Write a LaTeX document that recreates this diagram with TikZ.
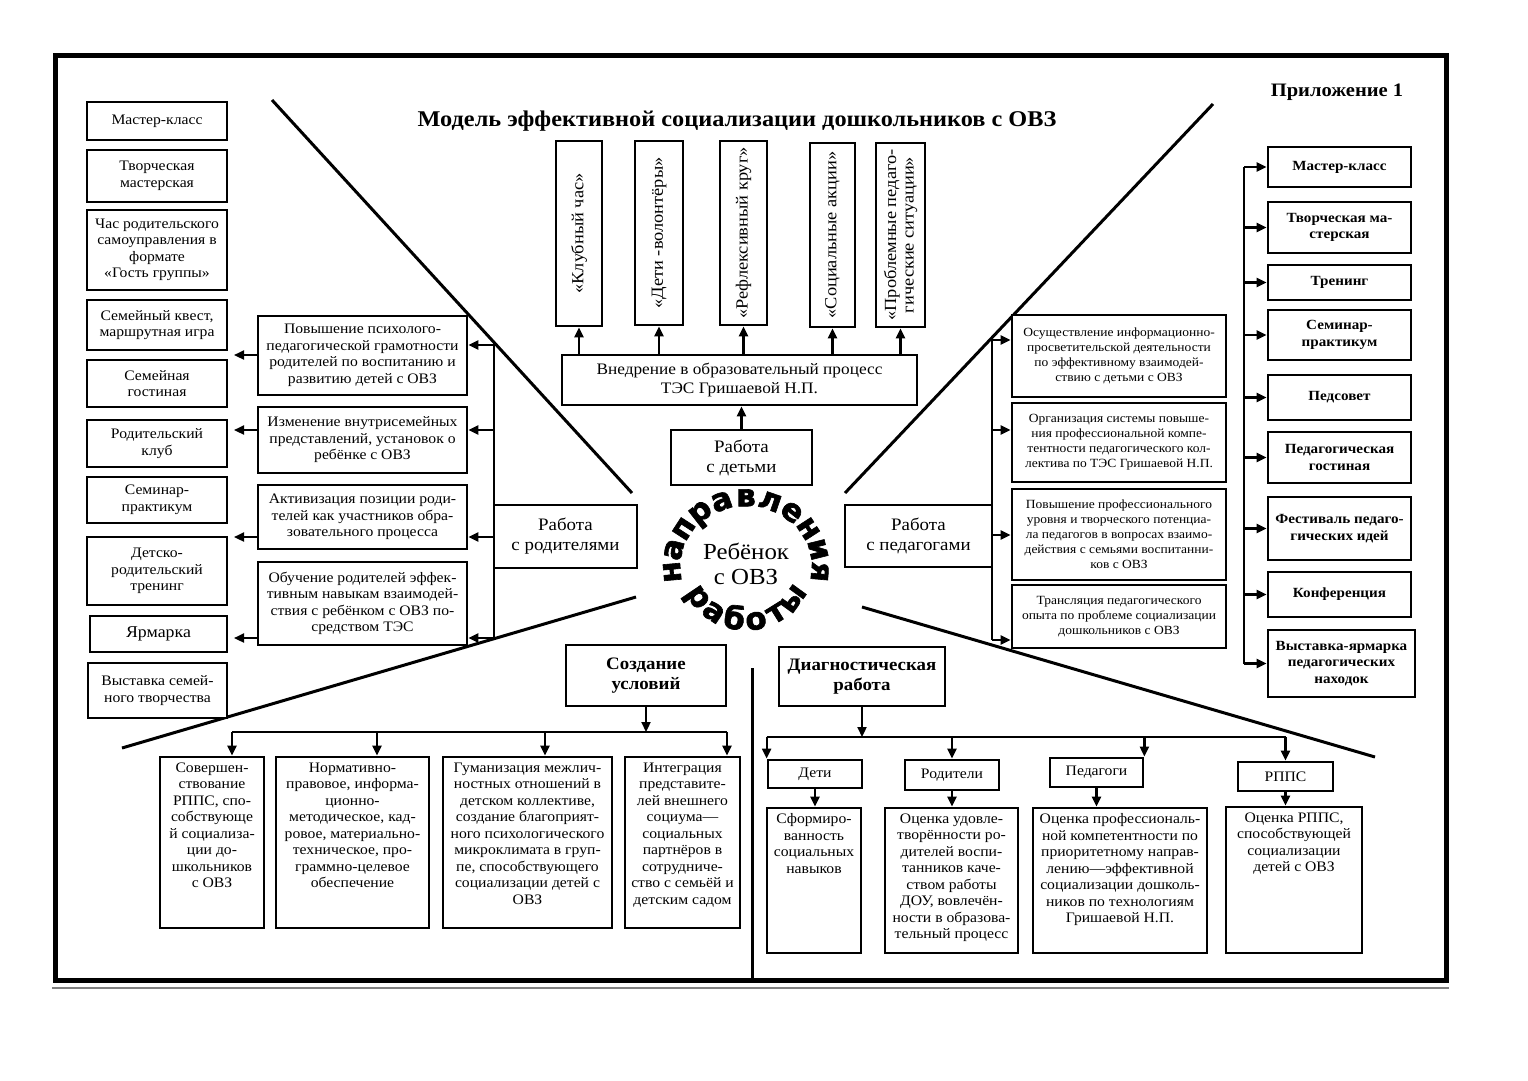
\documentclass[tikz,border=0pt]{standalone}
\usepackage{fontspec}
\setmainfont{Liberation Serif}[FakeStretch=1.08]
\newfontfamily\arcfont{DejaVu Sans}[FakeBold=2]
\usetikzlibrary{arrows.meta,calc}

\newcommand\fzM{\fontsize{14.5}{16.5}\selectfont}
\newcommand\fzS{\fontsize{12.5}{15}\selectfont}
\newcommand\fzR{\bfseries\fontsize{14}{16.5}\selectfont}
\newcommand\fzH{\fontsize{17.5}{20}\selectfont}
\newcommand\fzV{\fontsize{17}{17.5}\selectfont}

\tikzset{
 box/.style={draw, fill=white, line width=2.8pt, inner sep=1pt, align=center, font=\fzM},
 txt/.style={inner sep=0pt, align=center, font=\fzM},
 arr/.style={line width=2.2pt, -{Triangle[length=10pt,width=9pt]}},
 ln/.style={line width=2.4pt},
 diag/.style={line width=3pt},
 arcl/.style={font=\arcfont\bfseries\fontsize{31}{31}\selectfont, anchor=mid, inner sep=0pt},
}

\newcommand\cbx[7][]{\node[box,minimum width={#5-#3},minimum height={#6-#4},#1] (#2) at ({(#3+#5)/2},{(#4+#6)/2}) {#7};}
\newcommand\tbx[7][]{\node[box,minimum width={#5-#3},minimum height={#6-#4}] (#2) at ({(#3+#5)/2},{(#4+#6)/2}) {};
  \node[txt,anchor=north,#1] (#2t) at ([yshift=-7pt]#2.north) {#7};}
\newcommand\vbx[6]{\node[box,minimum width={#4-#2},minimum height={#5-#3}] (#1) at ({(#2+#4)/2},{(#3+#5)/2}) {};
  \node[txt,rotate=90,font=\fzV] (#1t) at (#1) {#6};}

\begin{document}
\begin{tikzpicture}[x=1pt,y=-1pt]
\useasboundingbox (0,0) rectangle (1528,1080);
\fill[white] (0,0) rectangle (1528,1080);
\draw[line width=5pt] (55,55) rectangle (1446,980);
\draw[gray, line width=1.2pt] (52,988) -- (1449,988);

% dividing lines
\draw[diag] (272,100) -- (632,493);
\draw[diag] (1213,104) -- (845,493);
\draw[diag] (636,597) -- (122,748);
\draw[diag] (862,607) -- (1375,757);
\draw[diag] (752,668) -- (752,978);

\node[font=\bfseries\fontsize{19}{22}\selectfont] (app) at (1337,92) {Приложение 1};
\node[font=\bfseries\fontsize{22.5}{25}\selectfont] (title) at (737,121) {Модель эффективной социализации дошкольников с ОВЗ};

% left column
\cbx{lc1}{87}{102}{227}{140}{Мастер-класс}
\cbx{lc2}{87}{150}{227}{202}{Творческая\\мастерская}
\cbx{lc3}{87}{210}{227}{290}{Час родительского\\самоуправления в\\формате\\«Гость группы»}
\cbx{lc4}{87}{300}{227}{350}{Семейный квест,\\маршрутная игра}
\cbx{lc5}{87}{360}{227}{407}{Семейная\\гостиная}
\cbx{lc6}{87}{420}{227}{467}{Родительский\\клуб}
\cbx{lc7}{87}{477}{227}{523}{Семинар-\\практикум}
\cbx{lc8}{87}{537}{227}{605}{Детско-\\родительский\\тренинг}
\cbx[font=\fontsize{16.5}{18}\selectfont]{lc9}{90}{616}{227}{652}{Ярмарка}
\cbx{lc10}{88}{663}{227}{718}{Выставка семей-\\ного творчества}

% middle left
\cbx{ml1}{258}{316}{467}{395}{Повышение психолого-\\педагогической грамотности\\родителей по воспитанию и\\развитию детей с ОВЗ}
\cbx{ml2}{258}{407}{467}{473}{Изменение внутрисемейных\\представлений, установок о\\ребёнке с ОВЗ}
\cbx{ml3}{258}{485}{467}{549}{Активизация позиции роди-\\телей как участников обра-\\зовательного процесса}
\cbx{ml4}{258}{562}{467}{645}{Обучение родителей эффек-\\тивным навыкам взаимодей-\\ствия с ребёнком с ОВЗ по-\\средством ТЭС}
\cbx[font=\fzH]{rp}{494}{505}{637}{568}{Работа\\с родителями}

\coordinate (la1) at (234,355);
\coordinate (la2) at (234,430);
\coordinate (la3) at (234,537);
\coordinate (la4) at (234,638);
\foreach \k in {1,...,4}{\draw[arr] (ml\k.west |- la\k) -- (la\k);}
\coordinate (bt) at (494,345);
\coordinate (b2) at (494,430);
\coordinate (b3) at (494,537);
\coordinate (bb) at (494,638);
\draw[ln] (bt) -- (bb);
\draw[arr] (bt) -- (bt -| ml1.east);
\draw[arr] (b2) -- (b2 -| ml2.east);
\draw[arr] (b3) -- (b3 -| ml3.east);
\draw[arr] (bb) -- (bb -| ml4.east);

% top centre
\vbx{v1}{556}{141}{602}{326}{«Клубный час»}
\vbx{v2}{635}{141}{683}{325}{«Дети -волонтёры»}
\vbx{v3}{720}{141}{767}{325}{«Рефлексивный круг»}
\vbx{v4}{810}{143}{855}{327}{«Социальные акции»}
\vbx{v5}{876}{143}{925}{327}{«Проблемные педаго-\\гические ситуации»}
\cbx[font=\fontsize{16}{18.5}\selectfont]{vnd}{562}{355}{917}{405}{Внедрение в образовательный процесс\\ТЭС Гришаевой Н.П.}
\foreach \k in {1,...,5}{\draw[arr] (v\k.south |- vnd.north) -- (v\k.south);}
\cbx[font=\fzH]{rd}{671}{430}{812}{485}{Работа\\с детьми}
\draw[arr] (rd.north) -- (rd.north |- vnd.south);

% centre
\node[font=\fontsize{23}{25}\selectfont, align=center] (child) at (746,564) {Ребёнок\\с ОВЗ};
\begin{scope}[shift={(746,566)},y=1pt]
\foreach \ch [count=\i] in {н,а,п,р,а,в,л,е,н,и,я}{
  \pgfmathsetmacro\ang{185-(\i-1)*19}
  \node[arcl,rotate=\ang-90] (a\i) at ({68*cos(\ang)},{62*sin(\ang)}) {\ch};
}
\foreach \ch [count=\i] in {р,а,б,о,т,ы}{
  \pgfmathsetmacro\ang{214+(\i-1)*22}
  \node[arcl,rotate=\ang+90] (w\i) at ({64*cos(\ang)},{62*sin(\ang)}) {\ch};
}
\end{scope}

% right middle
\cbx[font=\fzH]{rpd}{845}{505}{992}{567}{Работа\\с педагогами}
\cbx[font=\fzS]{rm1}{1012}{315}{1226}{397}{Осуществление информационно-\\просветительской деятельности\\по эффективному взаимодей-\\ствию с детьми с ОВЗ}
\cbx[font=\fzS]{rm2}{1012}{403}{1226}{482}{Организация системы повыше-\\ния профессиональной компе-\\тентности педагогического кол-\\лектива по ТЭС Гришаевой Н.П.}
\cbx[font=\fzS]{rm3}{1012}{489}{1226}{580}{Повышение профессионального\\уровня и творческого потенциа-\\ла педагогов в вопросах взаимо-\\действия с семьями воспитанни-\\ков с ОВЗ}
\cbx[font=\fzS]{rm4}{1012}{585}{1226}{648}{Трансляция педагогического\\опыта по проблеме социализации\\дошкольников с ОВЗ}
\coordinate (rt) at (992,340);
\coordinate (r2) at (992,430);
\coordinate (r3) at (992,535);
\coordinate (rb) at (992,640);
\draw[ln] (rt) -- (rb);
\draw[arr] (rt) -- (rt -| rm1.west);
\draw[arr] (r2) -- (r2 -| rm2.west);
\draw[arr] (r3) -- (r3 -| rm3.west);
\draw[arr] (rb) -- (rb -| rm4.west);

% right column
\cbx[font=\fzR]{rc1}{1268}{147}{1411}{187}{Мастер-класс}
\cbx[font=\fzR]{rc2}{1268}{202}{1411}{253}{Творческая ма-\\стерская}
\cbx[font=\fzR]{rc3}{1268}{265}{1411}{300}{Тренинг}
\cbx[font=\fzR]{rc4}{1268}{310}{1411}{360}{Семинар-\\практикум}
\cbx[font=\fzR]{rc5}{1268}{375}{1411}{420}{Педсовет}
\cbx[font=\fzR]{rc6}{1268}{432}{1411}{483}{Педагогическая\\гостиная}
\cbx[font=\fzR]{rc7}{1268}{497}{1411}{560}{Фестиваль педаго-\\гических идей}
\cbx[font=\fzR]{rc8}{1268}{572}{1411}{617}{Конференция}
\cbx[font=\fzR]{rc9}{1268}{630}{1415}{697}{Выставка-ярмарка\\педагогических\\находок}
\coordinate (rcb) at (1244,0);
\draw[ln] (rcb |- rc1.west) -- (rcb |- rc9.west);
\foreach \k in {1,...,9}{\draw[arr] (rcb |- rc\k.west) -- (rc\k.west);}

% bottom left
\cbx[font=\bfseries\fzH]{su}{566}{645}{726}{706}{Создание\\условий}
\tbx{b1}{160}{757}{264}{928}{Совершен-\\ствование\\РППС, спо-\\собствующе\\й социализа-\\ции до-\\школьников\\с ОВЗ}
\tbx{b2}{276}{757}{429}{928}{Нормативно-\\правовое, информа-\\ционно-\\методическое, кад-\\ровое, материально-\\техническое, про-\\граммно-целевое\\обеспечение}
\tbx{b3}{443}{757}{612}{928}{Гуманизация межлич-\\ностных отношений в\\детском коллективе,\\создание благоприят-\\ного психологического\\микроклимата в груп-\\пе, способствующего\\социализации детей с\\ОВЗ}
\tbx{b4}{625}{757}{740}{928}{Интеграция\\представите-\\лей внешнего\\социума—\\социальных\\партнёров в\\сотрудниче-\\ство с семьёй и\\детским садом}
\coordinate (bus1) at (0,732);
\coordinate (t1) at (232,732);
\coordinate (t2) at (377,732);
\coordinate (t3) at (545,732);
\coordinate (t4) at (727,732);
\draw[arr] (su.south) -- (su.south |- bus1);
\draw[ln] (t1) -- (t4);
\foreach \k in {1,...,4}{\draw[arr] (t\k) -- (t\k |- b\k.north);}

% bottom right
\cbx[font=\bfseries\fzH]{dw}{779}{647}{945}{706}{Диагностическая\\работа}
\cbx{dd}{768}{760}{862}{788}{Дети}
\cbx{dr}{905}{760}{999}{790}{Родители}
\cbx{dpg}{1050}{758}{1143}{787}{Педагоги}
\cbx{dpp}{1238}{762}{1333}{791}{РППС}
\tbx{e1}{767}{808}{861}{953}{Сформиро-\\ванность\\социальных\\навыков}
\tbx{e2}{885}{808}{1018}{953}{Оценка удовле-\\творённости ро-\\дителей воспи-\\танников каче-\\ством работы\\ДОУ, вовлечён-\\ности в образова-\\тельный процесс}
\tbx{e3}{1033}{808}{1207}{953}{Оценка профессиональ-\\ной компетентности по\\приоритетному направ-\\лению—эффективной\\социализации дошколь-\\ников по технологиям\\Гришаевой Н.П.}
\tbx{e4}{1226}{807}{1362}{953}{Оценка РППС,\\способствующей\\социализации\\детей с ОВЗ}
\coordinate (bus2) at (0,737);
\draw[arr] (dw.south) -- (dw.south |- bus2);
\draw[ln] (dd.north west |- bus2) -- (dpp.north |- bus2);
\draw[arr] (dd.north west |- bus2) -- (dd.north west);
\draw[arr] (dr.north |- bus2) -- (dr.north);
\draw[arr] (dpg.north east |- bus2) -- (dpg.north east);
\draw[arr] (dpp.north |- bus2) -- (dpp.north);
\draw[arr] (dd.south) -- (dd.south |- e1.north);
\draw[arr] (dr.south) -- (dr.south |- e2.north);
\draw[arr] (dpg.south) -- (dpg.south |- e3.north);
\draw[arr] (dpp.south) -- (dpp.south |- e4.north);
\end{tikzpicture}
\end{document}
